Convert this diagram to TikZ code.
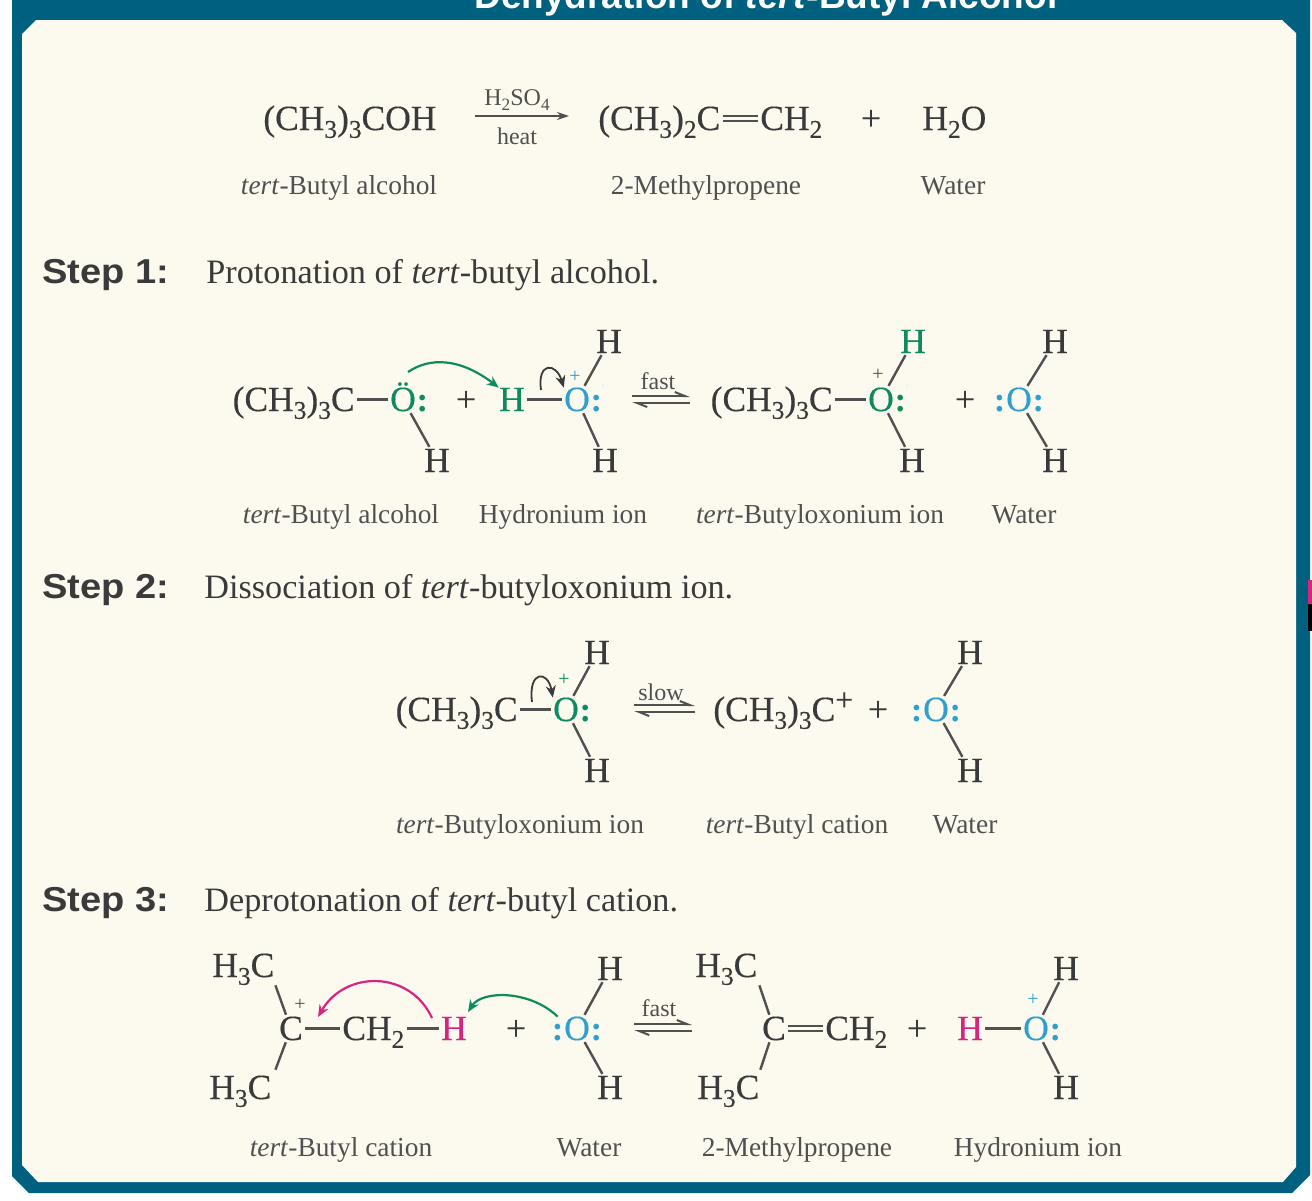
\documentclass[tikz,border=0pt]{standalone}
\usepackage{fontspec}
\setmainfont{Liberation Serif}
\newfontfamily\headfont{Liberation Sans}
\newfontfamily\stepfont[FakeStretch=1.1]{Liberation Sans}
\newfontfamily\chemfont[FakeBold=0.3]{Liberation Serif}
\usepackage{xcolor}
\usetikzlibrary{calc, arrows.meta, positioning}
\definecolor{framecol}{HTML}{00607F}
\definecolor{papercol}{HTML}{FCF9EF}
\definecolor{inkcol}{HTML}{3A3A3A}
\definecolor{labelcol}{HTML}{505050}
\definecolor{greencol}{HTML}{0E8A5F}
\definecolor{bluecol}{HTML}{2F9FD0}
\definecolor{pinkcol}{HTML}{D6247F}
\newcommand{\nsub}[1]{\raisebox{-.22em}{\scalebox{.72}{#1}}}
\newcommand{\nsup}[1]{\raisebox{.3em}{\scalebox{.9}{#1}}}

\begin{document}
\begin{tikzpicture}[x=0.5pt,y=-0.5pt,
    atom/.style={inner sep=0pt,anchor=base,text=inkcol,text height=11.5pt,text depth=0pt,font=\chemfont\fontsize{17.7}{19}\selectfont},
    pairdots/.style={atom,inner sep=0pt,font=\bfseries\fontsize{17.4}{19}\selectfont},
    charge/.style={inner sep=0pt,font=\fontsize{10}{11}\selectfont},
    name label/.style={inner sep=0pt,anchor=base,text=labelcol,font=\fontsize{13.7}{15}\selectfont},
    cond/.style={inner sep=0pt,text=labelcol,font=\fontsize{12}{13}\selectfont},
    stephead/.style={inner sep=0pt,anchor=base west,text=inkcol,font=\stepfont\bfseries\fontsize{17.3}{19}\selectfont},
    stepdesc/.style={inner sep=0pt,anchor=base west,text=inkcol,font=\fontsize{17.1}{19}\selectfont},
    bond/.style={draw=labelcol,line width=1.2pt,shorten >=1pt,shorten <=1pt},
    dbond/.style={draw=labelcol,line width=1pt,double=papercol,double distance=1.3pt,shorten >=1pt,shorten <=1pt},
    eqtop/.style={draw=labelcol,line width=1pt,-{Straight Barb[left,length=5pt,width=4pt]}},
    eqbot/.style={draw=labelcol,line width=1pt,-{Straight Barb[left,length=5pt,width=4pt]}},
    curly/.style={line width=1.1pt,-{Stealth[length=6pt,width=5pt]}}]
    \clip (0,0) rectangle (1312,1200);
    \fill[white] (0,0) rectangle (1312,1200);
    % Frame
    \fill[framecol] (12,-2) -- (1310,-2) -- (1310,1175) -- (1292,1193) -- (29,1193) -- (12,1176) -- cycle;
    \fill[papercol] (36,20) -- (1282,20) -- (1296,33) -- (1296,1167) -- (1283,1182) -- (38,1182) -- (22,1165) -- (22,34) -- cycle;
    \fill[pinkcol] (1308,580) rectangle (1312,604);
    \fill[black] (1308,604) rectangle (1312,631);
    \node[inner sep=0pt,anchor=base,text=white,font=\headfont\bfseries\fontsize{18.5}{20}\selectfont] (title) at (766,8) {Dehydration of \textit{tert}-Butyl Alcohol};

    % Overall reaction
    \node[atom,anchor=base west] (alc) at (263,130) {(CH\nsub{3})\nsub{3}COH};
    \coordinate (oa) at (475,116);
    \coordinate (ob) at (569,116);
    \draw[draw=labelcol,line width=1pt,-{Stealth[length=6pt,width=4pt]}] (oa) -- (ob);
    \node[cond] (cat) at (517,100) {H\nsub{2}SO\nsub{4}};
    \node[cond] (heat) at (517,136) {heat};
    \node[atom,anchor=base west] (ene) at (598,130) {(CH\nsub{3})\nsub{2}C};
    \node[atom,anchor=base west] (enb) at (760,130) {CH\nsub{2}};
    \draw[dbond] (ene) -- (enb);
    \node[atom] (pa) at (871,130) {+};
    \node[atom,anchor=base west] (wat) at (922,130) {H\nsub{2}O};
    \node[name label] (la) at (339,194) {\textit{tert}-Butyl alcohol};
    \node[name label] (lb) at (706,194) {2-Methylpropene};
    \node[name label] (lc) at (953,194) {Water};

    % Step 1
    \node[stephead] (sa) at (42,283) {Step 1:};
    \node[stepdesc] (da) at (206,283) {Protonation of \textit{tert}-butyl alcohol.};
    \node[atom,anchor=base east] (ra) at (355,411) {(CH\nsub{3})\nsub{3}C};
    \node[atom,text=greencol] (oh) at (403,411) {Ö};
    \node[pairdots,text=greencol,right=0pt of oh] (ohp) {:};
    \node[atom] (ohh) at (437,472) {H};
    \node[atom] (pb) at (466,411) {+};
    \node[atom,text=greencol] (hy) at (512,411) {H};
    \node[atom,text=bluecol] (ho) at (577,411) {O};
    \node[pairdots,text=bluecol,right=0pt of ho] (hop) {:};
    \node[charge,text=bluecol] (hoc) at (575,377) {+};
    \node[atom] (hot) at (609,353) {H};
    \node[atom] (hob) at (605,472) {H};
    \draw[bond] (ra) -- (oh);
    \draw[bond] (oh) -- (ohh);
    \draw[bond] (hy) -- (ho);
    \draw[bond] (ho) -- (hot);
    \draw[bond] (ho) -- (hob);
    \coordinate (cua) at (408,372);
    \draw[curly,greencol] (cua) .. controls (430,357) and (460,358) .. (hy.north west);
    \coordinate (cub) at (541,390);
    \draw[curly,inkcol,line width=0.9pt] (cub) .. controls (537,362) and (556,362) .. (ho.north west);
    \coordinate (ea) at (632,396);
    \coordinate (eb) at (690,396);
    \coordinate (ec) at (632,403);
    \coordinate (ed) at (690,403);
    \draw[eqtop] (ea) -- (eb);
    \draw[eqbot] (ed) -- (ec);
    \node[cond] (fa) at (658,381) {fast};
    \node[atom,anchor=base east] (rb) at (833,411) {(CH\nsub{3})\nsub{3}C};
    \node[atom,text=greencol] (ox) at (881,411) {O};
    \node[pairdots,text=greencol,right=0pt of ox] (oxp) {:};
    \node[charge,text=labelcol] (oxc) at (878,375) {+};
    \node[atom,text=greencol] (oxt) at (913,353) {H};
    \node[atom] (oxb) at (912,472) {H};
    \draw[bond] (rb) -- (ox);
    \draw[bond] (ox) -- (oxt);
    \draw[bond] (ox) -- (oxb);
    \node[atom] (pc) at (965,411) {+};
    \node[atom,text=bluecol] (wo) at (1019,411) {O};
    \node[pairdots,text=bluecol,left=0pt of wo] (wol) {:};
    \node[pairdots,text=bluecol,right=0pt of wo] (wor) {:};
    \node[atom] (wot) at (1055,353) {H};
    \node[atom] (wob) at (1055,472) {H};
    \draw[bond] (wo) -- (wot);
    \draw[bond] (wo) -- (wob);
    \node[name label] (ld) at (341,523) {\textit{tert}-Butyl alcohol};
    \node[name label] (le) at (563,523) {Hydronium ion};
    \node[name label] (lf) at (820,523) {\textit{tert}-Butyloxonium ion};
    \node[name label] (lg) at (1024,523) {Water};

    % Step 2
    \node[stephead] (sb) at (42,598) {Step 2:};
    \node[stepdesc] (db) at (204,598) {Dissociation of \textit{tert}-butyloxonium ion.};
    \node[atom,anchor=base east] (rc) at (518,721) {(CH\nsub{3})\nsub{3}C};
    \node[atom,text=greencol] (ob) at (566,721) {O};
    \node[pairdots,text=greencol,right=0pt of ob] (obp) {:};
    \node[charge,text=greencol] (obc) at (564,680) {+};
    \node[atom] (obt) at (597,664) {H};
    \node[atom] (obb) at (597,782) {H};
    \draw[bond] (rc) -- (ob);
    \draw[bond] (ob) -- (obt);
    \draw[bond] (ob) -- (obb);
    \coordinate (cuc) at (532,702);
    \draw[curly,inkcol,line width=0.9pt] (cuc) .. controls (528,670) and (548,670) .. (ob.north west);
    \coordinate (ee) at (634,705);
    \coordinate (ef) at (695,705);
    \coordinate (eg) at (634,712);
    \coordinate (eh) at (695,712);
    \draw[eqtop] (ee) -- (ef);
    \draw[eqbot] (eh) -- (eg);
    \node[cond] (fb) at (661,692) {slow};
    \node[atom,anchor=base west] (cat) at (713,721) {(CH\nsub{3})\nsub{3}C\nsup{+}};
    \node[atom] (pd) at (878,721) {+};
    \node[atom,text=bluecol] (wp) at (936,721) {O};
    \node[pairdots,text=bluecol,left=0pt of wp] (wpl) {:};
    \node[pairdots,text=bluecol,right=0pt of wp] (wpr) {:};
    \node[atom] (wpt) at (970,664) {H};
    \node[atom] (wpb) at (970,782) {H};
    \draw[bond] (wp) -- (wpt);
    \draw[bond] (wp) -- (wpb);
    \node[name label] (lh) at (520,833) {\textit{tert}-Butyloxonium ion};
    \node[name label] (li) at (797,833) {\textit{tert}-Butyl cation};
    \node[name label] (lj) at (965,833) {Water};

    % Step 3
    \node[stephead] (sc) at (42,911) {Step 3:};
    \node[stepdesc] (dc) at (204,911) {Deprotonation of \textit{tert}-butyl cation.};
    \node[atom,anchor=base west] (mea) at (212,977) {H\nsub{3}C};
    \node[atom,anchor=base west] (meb) at (209,1099) {H\nsub{3}C};
    \node[atom] (cc) at (291,1040) {C};
    \node[charge,text=labelcol] (ccc) at (300,1005) {+};
    \node[atom,anchor=base west] (chb) at (342,1040) {CH\nsub{2}};
    \node[atom,text=pinkcol] (hp) at (454,1040) {H};
    \draw[bond] (mea.south east) ++(0,6) coordinate (mec) -- (cc);
    \draw[bond] (meb.north east) ++(3,-4) coordinate (med) -- (cc);
    \draw[bond] (cc) -- (chb);
    \draw[bond] (chb) -- (hp);
    \coordinate (pka) at (432,1018);
    \coordinate (pkb) at (318,1017);
    \draw[curly,pinkcol] (pka) .. controls (410,970) and (345,970) .. (pkb);
    \node[atom] (pe) at (516,1040) {+};
    \node[atom,text=bluecol] (wq) at (577,1040) {O};
    \node[pairdots,text=bluecol,left=0pt of wq] (wql) {:};
    \node[pairdots,text=bluecol,right=0pt of wq] (wqr) {:};
    \node[atom] (wqt) at (610,980) {H};
    \node[atom] (wqb) at (610,1099) {H};
    \draw[bond] (wq) -- (wqt);
    \draw[bond] (wq) -- (wqb);
    \coordinate (gra) at (468,1012);
    \draw[curly,greencol] (wql.north) .. controls (530,990) and (482,990) .. (gra);
    \coordinate (ei) at (634,1024);
    \coordinate (ej) at (692,1024);
    \coordinate (ek) at (634,1031);
    \coordinate (el) at (692,1031);
    \draw[eqtop] (ei) -- (ej);
    \draw[eqbot] (el) -- (ek);
    \node[cond] (fc) at (659,1008) {fast};
    \node[atom,anchor=base west] (mee) at (695,977) {H\nsub{3}C};
    \node[atom,anchor=base west] (mef) at (697,1099) {H\nsub{3}C};
    \node[atom] (cd) at (774,1040) {C};
    \node[atom,anchor=base west] (chc) at (825,1040) {CH\nsub{2}};
    \draw[bond] (mee.south east) ++(1,6) coordinate (meg) -- (cd);
    \draw[bond] (mef.north east) ++(0,-4) coordinate (meh) -- (cd);
    \draw[dbond] (cd) -- (chc);
    \node[atom] (pf) at (917,1040) {+};
    \node[atom,text=pinkcol] (hq) at (970,1040) {H};
    \node[atom,text=bluecol] (hr) at (1036,1040) {O};
    \node[pairdots,text=bluecol,right=0pt of hr] (hrp) {:};
    \node[charge,text=bluecol] (hrc) at (1033,1000) {+};
    \node[atom] (hrt) at (1066,980) {H};
    \node[atom] (hrb) at (1066,1099) {H};
    \draw[bond] (hq) -- (hr);
    \draw[bond] (hr) -- (hrt);
    \draw[bond] (hr) -- (hrb);
    \node[name label] (lk) at (341,1156) {\textit{tert}-Butyl cation};
    \node[name label] (ll) at (589,1156) {Water};
    \node[name label] (lm) at (797,1156) {2-Methylpropene};
    \node[name label] (ln) at (1038,1156) {Hydronium ion};
\end{tikzpicture}
\end{document}
